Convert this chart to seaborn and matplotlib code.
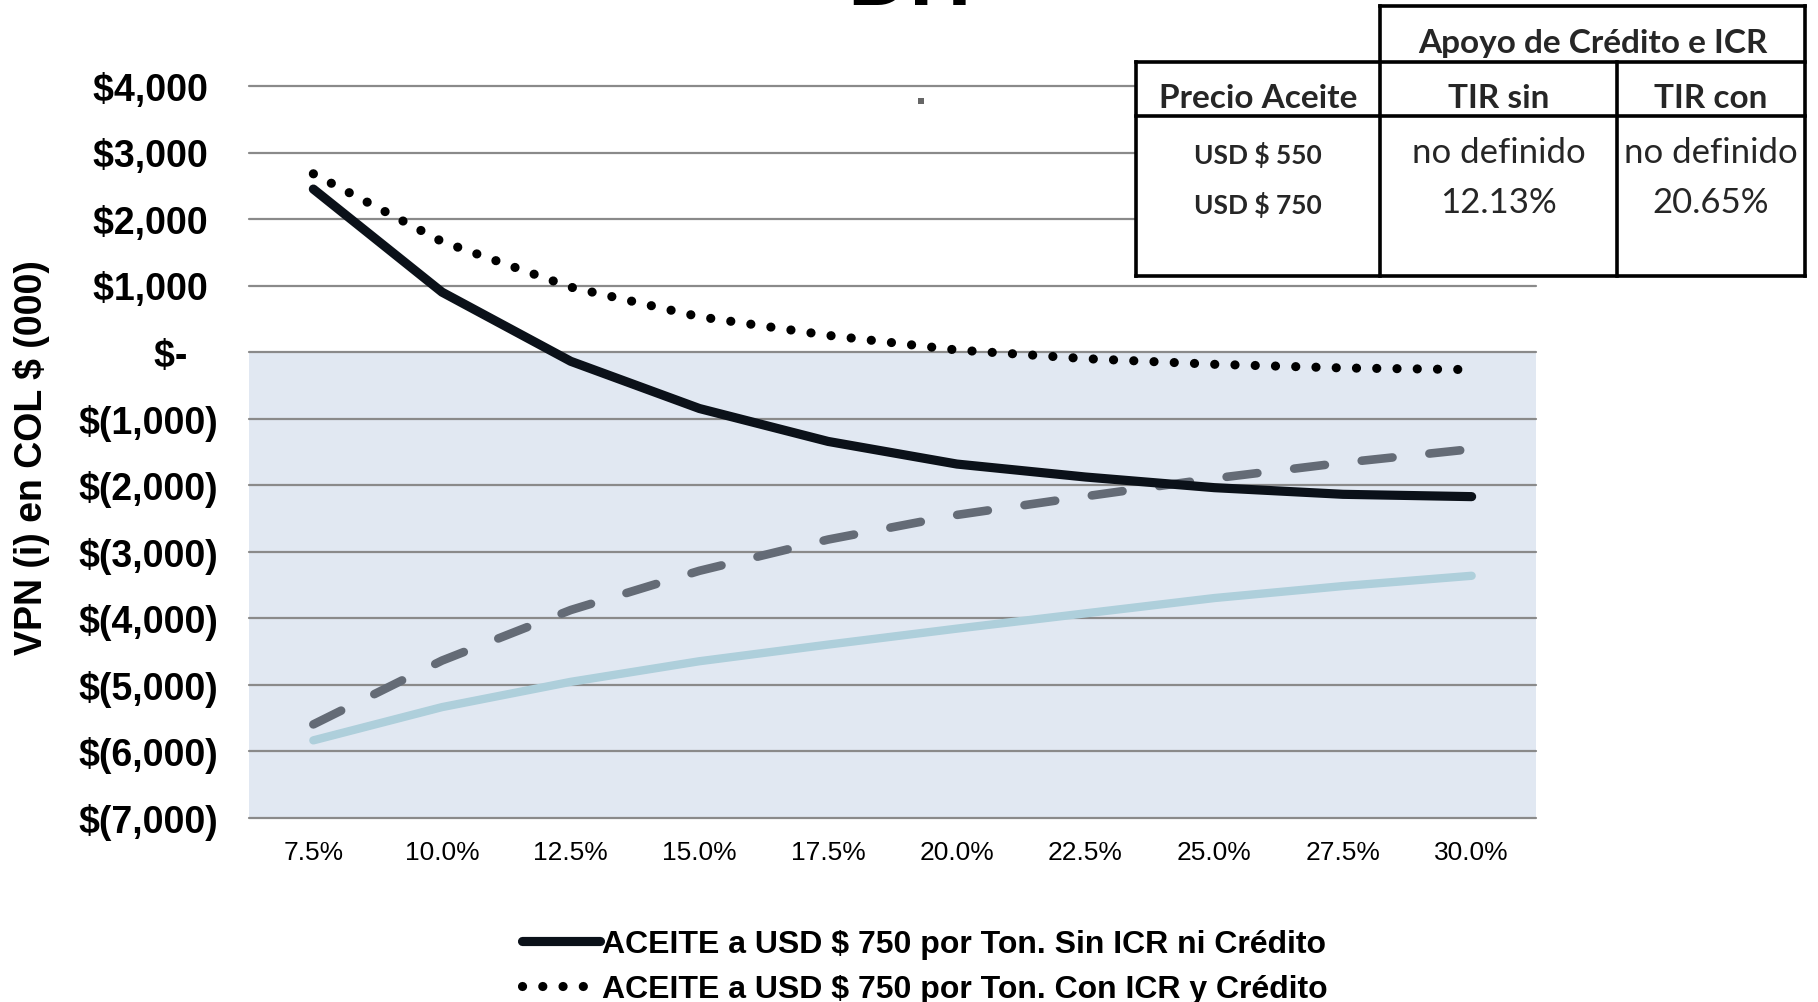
import matplotlib
matplotlib.use("Agg")
import matplotlib.pyplot as plt
from matplotlib.lines import Line2D
from matplotlib.patches import Rectangle
import pandas as pd
import seaborn as sns

# ---- data -------------------------------------------------------------
rates = [7.5, 10.0, 12.5, 15.0, 17.5, 20.0, 22.5, 25.0, 27.5, 30.0]
rate_labels = ["7.5%", "10.0%", "12.5%", "15.0%", "17.5%",
               "20.0%", "22.5%", "25.0%", "27.5%", "30.0%"]

vpn_750_sin = [2450, 900, -140, -850, -1345, -1685, -1880, -2040, -2140, -2175]
vpn_750_con = [2680, 1660, 975, 530, 250, 30, -100, -185, -240, -265]
vpn_550_con = [-5600, -4640, -3880, -3290, -2820, -2450, -2170, -1900, -1665, -1460]
vpn_550_sin = [-5840, -5340, -4960, -4650, -4400, -4160, -3930, -3700, -3520, -3365]

series_names = ["ACEITE a USD $ 750 por Ton. Sin ICR ni Crédito",
                "ACEITE a USD $ 750 por Ton. Con ICR y Crédito",
                "ACEITE a USD $ 550 por Ton. Con ICR y Crédito",
                "ACEITE a USD $ 550 por Ton. Sin ICR ni Crédito"]

y_ticks = [-7000, -6000, -5000, -4000, -3000, -2000, -1000, 0, 1000, 2000, 3000, 4000]
y_tick_labels = ["$(7,000)", "$(6,000)", "$(5,000)", "$(4,000)", "$(3,000)",
                 "$(2,000)", "$(1,000)", "$-   ", "$1,000 ", "$2,000 ",
                 "$3,000 ", "$4,000 "]
y_label = "VPN (i) en COL $ (000)"
title_text = "DH"

table_group = "Apoyo de Crédito e ICR"
table_cols = ["Precio Aceite", "TIR sin", "TIR con"]
table_prices = ["USD $ 550", "USD $ 750"]
table_tir_sin = ["no definido", "12.13%"]
table_tir_con = ["no definido", "20.65%"]

# ---- style ------------------------------------------------------------
sns.set_style("white")
plt.rcParams["font.family"] = ["Liberation Sans", "DejaVu Sans"]

W, H = 1818, 1003
fig = plt.figure(figsize=(W / 100, H / 100), dpi=100)


def fx(px):
    return px / W


def fy(py):
    return 1 - py / H


ax = fig.add_axes([fx(249), fy(818.5), fx(1536) - fx(249), fy(87) - fy(818.5)])

df = pd.DataFrame({"tasa": rates, "s1": vpn_750_sin, "s2": vpn_750_con,
                   "s3": vpn_550_con, "s4": vpn_550_sin})

# shaded negative region
ax.axhspan(-7000, 0, color="#E1E8F2", zorder=0, lw=0)

line_specs = [
    ("s4", series_names[3], "#AECFDB", 6.0, "-"),
    ("s3", series_names[2], "#646B76", 6.2, (0, (3.6, 4.3))),
    ("s1", series_names[0], "#0B1119", 6.6, "-"),
    ("s2", series_names[1], "#000000", 6.6, (0, (0.01, 2.2))),
]
handles = {}
for col, name, color, lw, ls in line_specs:
    sns.lineplot(data=df, x="tasa", y=col, ax=ax, color=color, linewidth=lw,
                 label=name, zorder=3)
    ln = ax.lines[-1]
    ln.set_linestyle(ls)
    ln.set_solid_capstyle("round")
    ln.set_dash_capstyle("round")
    ln.set_solid_joinstyle("round")
    handles[name] = ln

ax.set_xlim(rates[0] - 1.25, rates[-1] + 1.25)
ax.set_ylim(-7000, 4000)
ax.set_xticks(rates, rate_labels)
ax.set_yticks(y_ticks, y_tick_labels)
ax.tick_params(axis="x", length=0, pad=16, labelsize=19, labelcolor="black")
ax.tick_params(axis="y", length=0, pad=22, labelsize=27, labelcolor="black")
for t in ax.get_yticklabels():
    t.set_fontweight("bold")

ax.grid(axis="y", color="#8A8A8A", linewidth=1.6, zorder=1)
ax.grid(axis="x", visible=False)
for gl in ax.get_ygridlines():
    gl.set_clip_on(False)
ax.set_axisbelow(True)
for sp in ax.spines.values():
    sp.set_visible(False)

ax.set_xlabel("")
ax.set_ylabel(y_label, fontsize=27, fontweight="bold", color="black")
ax.yaxis.set_label_coords((50 - 249) / 1287, (818.5 - 458) / 731.5)

leg_names = [series_names[0], series_names[1]]
leg = ax.legend([handles[n] for n in leg_names], leg_names,
                loc="center left", bbox_to_anchor=(fx(522), fy(967.5)),
                bbox_transform=fig.transFigure, frameon=False,
                prop={"size": 23, "weight": "bold"},
                handlelength=2.44, handletextpad=0.05, labelspacing=0.47,
                borderpad=0, borderaxespad=0)
for t in leg.get_texts():
    t.set_color("black")

# clipped title at the top edge
fig.text(fx(909), fy(5), title_text, fontsize=62, fontweight="bold",
         ha="center", va="baseline", color="black")

# small stray marker below the top grid line
fig.add_artist(Rectangle((fx(918), fy(104.5)), fx(6), 5.5 / H,
                         transform=fig.transFigure, color="#666666", lw=0))

# ---- summary table ----------------------------------------------------
x0, x1, x2, x3 = 1136, 1380, 1617, 1805
y0, y1, y2, y3 = 6.7, 63, 117.3, 276.7
fig.add_artist(Rectangle((fx(x0), fy(y3)), fx(x3) - fx(x0), fy(y1) - fy(y3),
                         transform=fig.transFigure, facecolor="white",
                         edgecolor="none", zorder=5))
fig.add_artist(Rectangle((fx(x1), fy(y1)), fx(x3) - fx(x1), fy(y0) - fy(y1),
                         transform=fig.transFigure, facecolor="white",
                         edgecolor="none", zorder=5))
segs = [
    ((x1, y0), (x3, y0)), ((x0, y1), (x3, y1)), ((x0, y2), (x3, y2)),
    ((x0, y3), (x3, y3)), ((x0, y1), (x0, y3)), ((x1, y0), (x1, y3)),
    ((x2, y1), (x2, y3)), ((x3, y0), (x3, y3)),
]
for (ax_, ay_), (bx_, by_) in segs:
    fig.add_artist(Line2D([fx(ax_), fx(bx_)], [fy(ay_), fy(by_)],
                          transform=fig.transFigure, color="black", lw=2.6,
                          solid_capstyle="projecting", zorder=6))

tfont = ["Lato", "DejaVu Sans"]
fig.text(fx((x1 + x3) / 2), fy(44), table_group, fontsize=24, fontweight="bold",
         family=tfont, ha="center", va="center", zorder=7)
for cx, txt in zip([(x0 + x1) / 2, (x1 + x2) / 2, (x2 + x3) / 2], table_cols):
    fig.text(fx(cx), fy(99), txt, fontsize=24, fontweight="bold", family=tfont,
             ha="center", va="center", zorder=7)
for i, yy in enumerate([153, 203]):
    fig.text(fx((x0 + x1) / 2), fy(yy + 2), table_prices[i], fontsize=19,
             fontweight="bold", family=tfont, ha="center", va="center", zorder=7)
    fig.text(fx((x1 + x2) / 2), fy(yy), table_tir_sin[i], fontsize=25,
             family=tfont, ha="center", va="center", zorder=7)
    fig.text(fx((x2 + x3) / 2), fy(yy), table_tir_con[i], fontsize=25,
             family=tfont, ha="center", va="center", zorder=7)

fig.savefig("out.png", dpi=100)
